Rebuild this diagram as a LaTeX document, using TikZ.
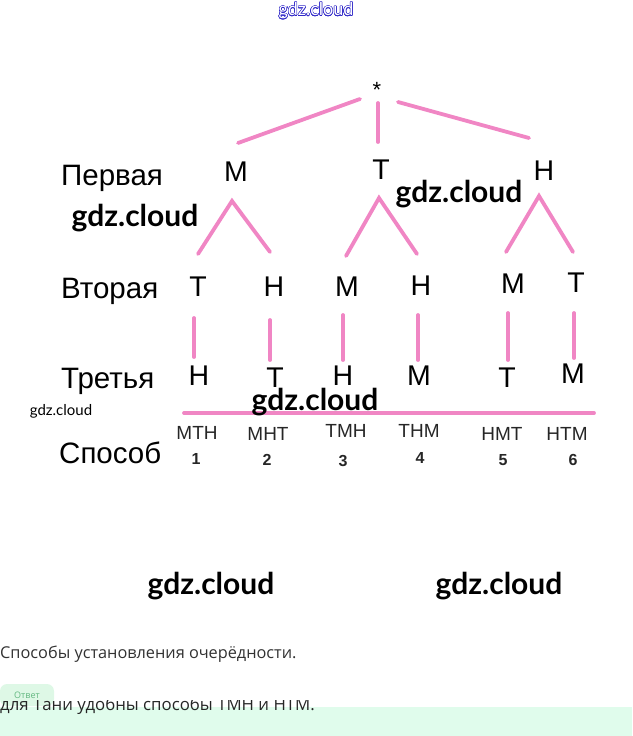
\documentclass[tikz,border=0pt]{standalone}
\usepackage{fontspec}
\setmainfont{Liberation Sans}
\newfontfamily\wmfont{Lato}
\newfontfamily\notefont{Open Sans}
\usepackage{contour}
\usetikzlibrary{calc}
\definecolor{pinkline}{RGB}{240,134,196}
\definecolor{wmblue}{RGB}{48,40,200}
\definecolor{mintband}{RGB}{224,252,236}
\definecolor{badgegreen}{RGB}{98,184,128}
\definecolor{badgefill}{RGB}{222,248,230}
\definecolor{notegray}{RGB}{50,50,50}
\contourlength{0.45pt}
\begin{document}
\begin{tikzpicture}[x=1pt,y=-1pt,
 lbl/.style={anchor=west,inner sep=0pt,text depth=0pt,font=\fontsize{29.5}{29.5}\selectfont},
 ltr/.style={inner sep=0pt,text depth=0pt,font=\fontsize{28.5}{28.5}\selectfont},
 way/.style={inner sep=0pt,text depth=0pt,font=\fontsize{19}{19}\selectfont,text=black!85},
 num/.style={inner sep=0pt,text depth=0pt,font=\fontsize{16}{16}\selectfont\bfseries,text=black!85},
 wm/.style={inner sep=0pt,font=\wmfont\fontsize{30}{30}\selectfont\bfseries},
 br/.style={draw=pinkline,line width=3.8pt,line cap=round}]
\useasboundingbox (0,0) rectangle (632,736);
% top watermark
\node[inner sep=0pt,font=\wmfont\fontsize{18}{18}\selectfont] (wtop) at (316,11) {\contour{wmblue}{\textcolor{white}{gdz.cloud}}};
% row labels
\node[lbl] (first) at (61,175) {Первая};
\node[lbl] (second) at (61,288) {Вторая};
\node[lbl] (third) at (61,378) {Третья};
\node[lbl] (way) at (59,453) {Способ};
% tree
\node[inner sep=0pt,font=\fontsize{22}{22}\selectfont] (st) at (377,90) {*};
\node[ltr] (f1) at (236,172) {М};\node[ltr] (f2) at (381,170) {Т};\node[ltr] (f3) at (544,171) {Н};
\node[ltr] (s1) at (198,287) {Т};\node[ltr] (s2) at (274,287) {Н};\node[ltr] (s3) at (347,287) {М};
\node[ltr] (s4) at (421,286) {Н};\node[ltr] (s5) at (513,284) {М};\node[ltr] (s6) at (576,283) {Т};
\node[ltr] (r1) at (199,376) {Н};\node[ltr] (r2) at (275,378) {Т};\node[ltr] (r3) at (343,376) {Н};
\node[ltr] (r4) at (419,376) {М};\node[ltr] (r5) at (507,378) {Т};\node[ltr] (r6) at (573,374) {М};
\draw[br] ($(st)+(-17,9)$)--($(f1)+(2,-29)$);\draw[br] ($(st)+(1,13)$)--($(f2)+(-3,-28)$);\draw[br] ($(st)+(21,12)$)--($(f3)+(-15,-33)$);
\draw[br] ($(s1)+(0,-33)$)--($(f1)+(-4,29)$)--($(s2)+(-4,-35)$);
\draw[br] ($(s3)+(-1,-31)$)--($(f2)+(-2,28)$)--($(s4)+(-4,-32)$);
\draw[br] ($(s5)+(-7,-32)$)--($(f3)+(-5,25)$)--($(s6)+(-3,-31)$);
\draw[br] ($(s1)+(-4,31)$)--($(s1)+(-4,70)$);\draw[br] ($(s2)+(-4,33)$)--($(s2)+(-4,73)$);
\draw[br] ($(s3)+(-4,28)$)--($(s3)+(-4,73)$);\draw[br] ($(s4)+(-3,29)$)--($(s4)+(-3,74)$);
\draw[br] ($(s5)+(-5,29)$)--($(s5)+(-5,76)$);\draw[br] ($(s6)+(-2,30)$)--($(s6)+(-2,75)$);
% ways
\node[way] (w1) at (197,433) {МТН};\node[way] (w2) at (268,434) {МНТ};\node[way] (w3) at (346,431) {ТМН};
\node[way] (w4) at (419,431) {ТНМ};\node[way] (w5) at (502,434) {НМТ};\node[way] (w6) at (567,434) {НТМ};
\node[num] (n1) at (196,459) {1};\node[num] (n2) at (267,460) {2};\node[num] (n3) at (343,461) {3};
\node[num] (n4) at (420,458) {4};\node[num] (n5) at (503,460) {5};\node[num] (n6) at (573,460) {6};
\draw[br] ($(w1)+(-13,-20)$)--($(w6)+(27,-21)$);
% watermarks
\node[wm] (wa) at (135,218) {gdz.cloud};
\node[wm] (wb) at (459,194) {gdz.cloud};
\node[wm] (wc) at (315,402) {gdz.cloud};
\node[wm] (wd) at (211,586) {gdz.cloud};
\node[wm] (we) at (499,586) {gdz.cloud};
\node[inner sep=0pt,font=\wmfont\fontsize{15}{15}\selectfont] (wsmall) at (61,411) {gdz.cloud};
% note and answer
\node[anchor=west,inner sep=0pt,font=\notefont\fontsize{16.3}{16.3}\selectfont,text=notegray] (note) at (0,654) {Способы установления очерёдности.};
\fill[mintband] (0,707) rectangle (632,736);
\node[fill=badgefill,rounded corners=7pt,minimum width=54pt,minimum height=22pt,inner sep=0pt,
 font=\notefont\fontsize{9}{9}\selectfont,text=badgegreen] (badge) at (27,695) {Ответ};
\begin{scope}
\clip (0,700) rectangle (632,736);
\node[anchor=base west,inner sep=0pt,font=\notefont\fontsize{16.8}{16.8}\selectfont,text=black!85] (answer) at (0,710) {для Тани удобны способы ТМН и НТМ.};
\end{scope}
\end{tikzpicture}
\end{document}
